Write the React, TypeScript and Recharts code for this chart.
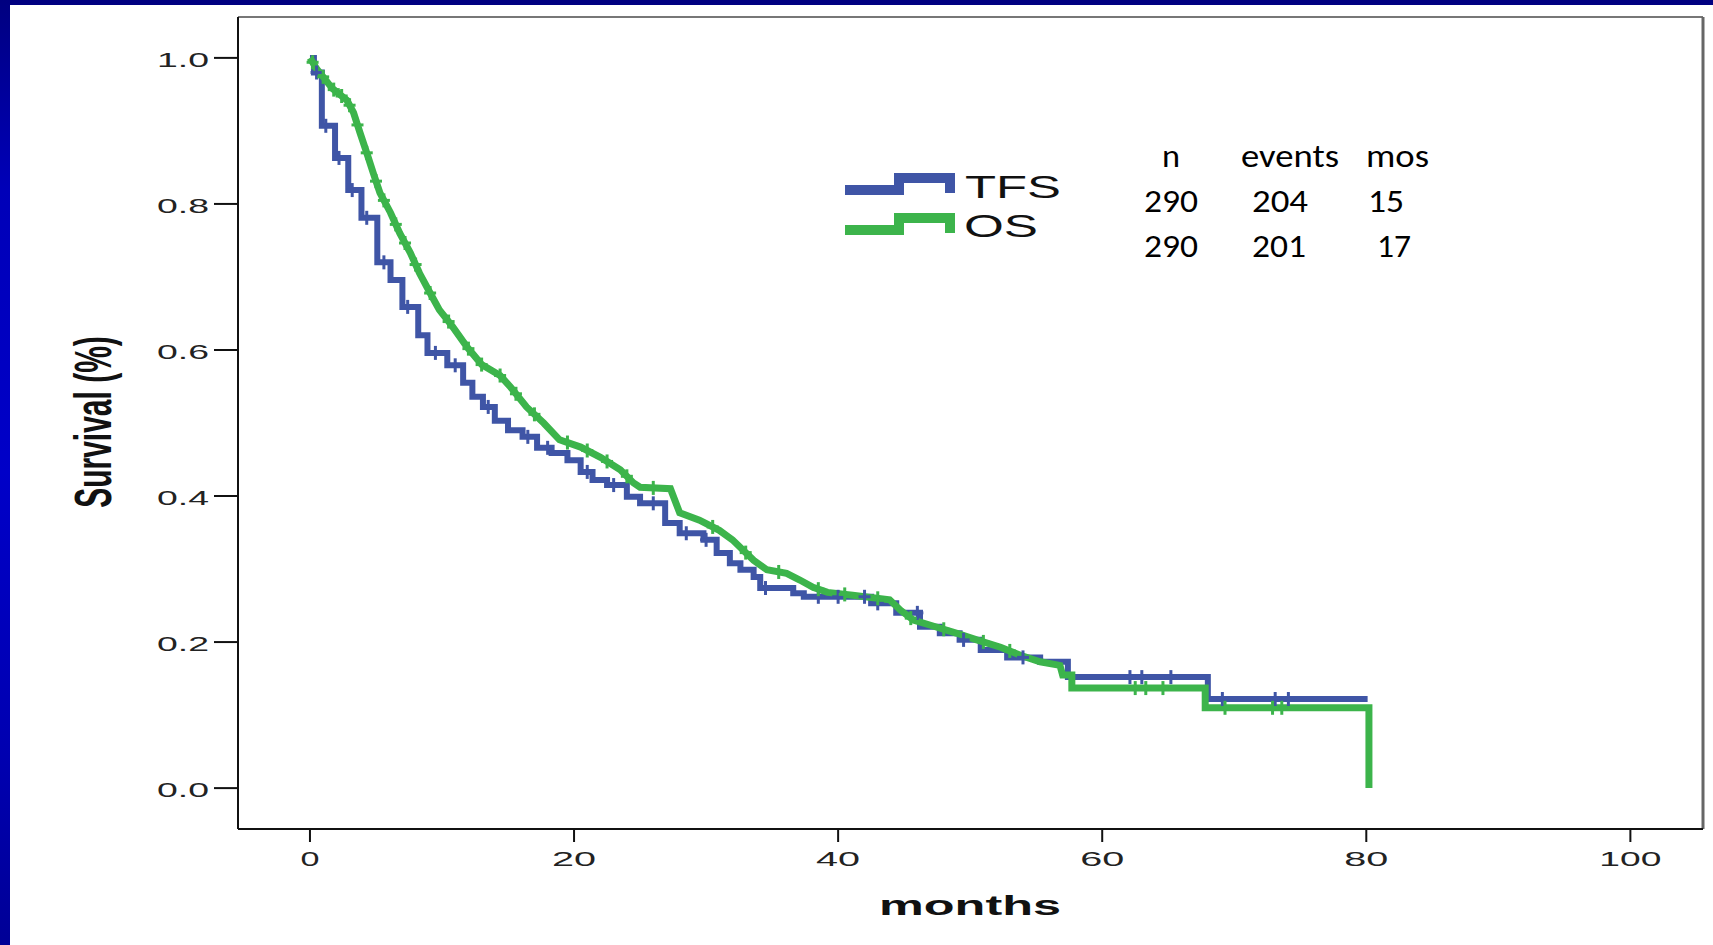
import React from 'react';
import { ComposedChart, Line, Scatter, XAxis, YAxis, ReferenceLine } from 'recharts';

// ---- data ----
const xTicks = [0, 20, 40, 60, 80, 100];
const yTicks = [0, 0.2, 0.4, 0.6, 0.8, 1.0];

// TFS: step points (time of drop, survival after drop)
const tfsMonths = [0, 0.3, 0.9, 1.9, 2.9, 3.9, 5.1, 6.1, 7.0, 8.2, 8.9, 10.4, 11.6, 12.3, 13.1, 14.0, 15.0, 16.1, 17.2, 18.3, 19.5, 20.5, 21.4, 22.5, 24.0, 25.0, 26.9, 28.0, 29.8, 30.8, 31.8, 32.6, 33.6, 34.1, 36.6, 37.4, 42.5, 44.4, 46.2, 47.7, 49.2, 50.8, 52.8, 55.3, 57.4, 68.0, 80.1];
const tfsSurvival = [1.0, 0.98, 0.907, 0.863, 0.819, 0.781, 0.72, 0.696, 0.659, 0.62, 0.596, 0.579, 0.555, 0.536, 0.522, 0.503, 0.49, 0.481, 0.466, 0.459, 0.449, 0.433, 0.422, 0.415, 0.399, 0.39, 0.363, 0.349, 0.34, 0.322, 0.308, 0.299, 0.289, 0.274, 0.267, 0.262, 0.253, 0.24, 0.221, 0.212, 0.203, 0.189, 0.179, 0.173, 0.152, 0.122, 0.122];

// OS: vertices of the densely stepped curve
const osMonths = [0, 0.5, 1.0, 1.7, 2.8, 3.3, 3.8, 4.3, 4.8, 5.3, 6.1, 6.8, 7.6, 8.3, 9.1, 9.8, 10.8, 11.9, 13.0, 14.4, 15.2, 16.4, 17.7, 18.9, 20.5, 22.0, 23.5, 24.5, 25.0, 27.3, 28.0, 29.5, 31.0, 32.0, 33.6, 34.6, 36.1, 37.1, 38.1, 39.2, 41.1, 43.9, 44.7, 45.7, 47.0, 49.0, 50.5, 52.3, 53.8, 55.3, 56.8, 57.0, 57.7, 57.7, 67.8, 67.8, 80.2, 80.2];
const osSurvival = [1.0, 0.985, 0.974, 0.958, 0.942, 0.925, 0.897, 0.87, 0.842, 0.815, 0.788, 0.76, 0.733, 0.705, 0.678, 0.655, 0.632, 0.604, 0.58, 0.565, 0.549, 0.522, 0.5, 0.477, 0.467, 0.453, 0.436, 0.418, 0.412, 0.41, 0.377, 0.367, 0.353, 0.34, 0.312, 0.299, 0.294, 0.285, 0.275, 0.268, 0.264, 0.258, 0.244, 0.23, 0.223, 0.212, 0.203, 0.193, 0.182, 0.173, 0.168, 0.155, 0.155, 0.137, 0.137, 0.11, 0.11, 0.0];

const tfsCensorMonths = [0.5, 1.2, 2.2, 3.2, 4.3, 5.6, 7.4, 9.5, 11.0, 13.5, 16.5, 18.0, 21.0, 23.0, 26.0, 28.5, 30.0, 34.5, 38.5, 40.0, 42.0, 43.0, 46.0, 49.5, 54.0, 62.1, 63.0, 65.2, 69.1, 73.1, 74.1];
const osCensorMonths = [0.2, 1.0, 1.8, 2.4, 3.0, 3.6, 4.3, 5.0, 5.6, 6.5, 7.2, 8.0, 9.1, 10.5, 12.0, 13.0, 14.4, 15.6, 17.0, 19.5, 21.0, 22.5, 24.0, 26.0, 30.5, 33.0, 35.5, 38.5, 40.5, 43.0, 45.5, 48.0, 51.0, 53.0, 62.5, 63.3, 64.6, 69.3, 72.9, 73.6];

const seriesNames = ['TFS', 'OS'];
const tableHeader = ['n', 'events', 'mos'];
const tableRows = [
  ['290', '204', '15'],
  ['290', '201', '17'],
];

// ---- helpers ----
const BLUE = '#3f55a6';
const GREEN = '#3cb44b';
const W = 1713;
const H = 945;
const TICK_FONT = '"Liberation Sans", Arial, sans-serif';

const toPoints = (ts: number[], ss: number[]) => ts.map((t, i) => ({ t, s: ss[i] }));
const stepValueAt = (ts: number[], ss: number[], t: number) => {
  let v = ss[0];
  for (let i = 0; i < ts.length; i++) if (ts[i] <= t) v = ss[i];
  return v;
};
const lineValueAt = (ts: number[], ss: number[], t: number) => {
  for (let i = 1; i < ts.length; i++) {
    if (t <= ts[i]) {
      const t0 = ts[i - 1];
      const t1 = ts[i];
      if (t1 === t0) return ss[i];
      return ss[i - 1] + ((ss[i] - ss[i - 1]) * (t - t0)) / (t1 - t0);
    }
  }
  return ss[ss.length - 1];
};

const tfsData = toPoints(tfsMonths, tfsSurvival);
const osData = toPoints(osMonths, osSurvival);
const tfsCensor = tfsCensorMonths.map((t) => ({ t, s: stepValueAt(tfsMonths, tfsSurvival, t) }));
const osCensor = osCensorMonths.map((t) => ({ t, s: lineValueAt(osMonths, osSurvival, t) }));

const makeCensor = (color: string) => (props: any) => {
  const { cx, cy } = props;
  if (cx == null || cy == null) return <g />;
  return (
    <g>
      <line x1={cx} x2={cx} y1={cy - 7} y2={cy + 7} stroke={color} strokeWidth={3} />
      <line x1={cx - 6} x2={cx + 6} y1={cy} y2={cy} stroke={color} strokeWidth={3} />
    </g>
  );
};

const YTick = (props: any) => {
  const { x, y, payload } = props;
  return (
    <text x={x - 55} y={y + 9} textLength={52} lengthAdjust="spacingAndGlyphs" fontSize={21} fill="#222" fontFamily={TICK_FONT}>
      {Number(payload.value).toFixed(1)}
    </text>
  );
};

const XTick = (props: any) => {
  const { x, y, payload } = props;
  const label = String(payload.value);
  const len = label.length === 1 ? 19 : label.length === 2 ? 44 : 62;
  return (
    <text x={x - len / 2} y={y + 22} textLength={len} lengthAdjust="spacingAndGlyphs" fontSize={21} fill="#222" fontFamily={TICK_FONT}>
      {label}
    </text>
  );
};

const X_DOMAIN: [number, number] = [-5.45, 105.5];
const Y_DOMAIN: [number, number] = [-0.056, 1.056];

export default function App() {
  return (
    <div
      style={{
        position: 'absolute',
        left: 0,
        top: 0,
        width: W,
        height: H,
        overflow: 'hidden',
        background: 'linear-gradient(to bottom, #000080 0%, #0000b8 20%, #0000c8 50%, #0000b0 80%, #000096 100%)',
      }}
    >
      <div style={{ position: 'absolute', left: 10, top: 5, right: 0, bottom: 0, background: '#ffffff' }} />
      <div style={{ position: 'absolute', left: 0, top: 0 }}>
        <ComposedChart width={W} height={H} margin={{ top: 17, right: 10, bottom: 56, left: 158 }}>
          <XAxis
            type="number"
            dataKey="t"
            domain={X_DOMAIN}
            ticks={xTicks}
            allowDataOverflow
            height={60}
            tickSize={13}
            axisLine={{ stroke: '#111', strokeWidth: 2 }}
            tickLine={{ stroke: '#111', strokeWidth: 2 }}
            tick={<XTick />}
            interval={0}
          />
          <YAxis
            type="number"
            dataKey="s"
            domain={Y_DOMAIN}
            ticks={yTicks}
            allowDataOverflow
            width={80}
            tickSize={24}
            axisLine={{ stroke: '#111', strokeWidth: 2 }}
            tickLine={{ stroke: '#111', strokeWidth: 2 }}
            tick={<YTick />}
            interval={0}
          />
          <ReferenceLine y={Y_DOMAIN[1]} stroke="#777" strokeWidth={2} />
          <ReferenceLine x={X_DOMAIN[1]} stroke="#666" strokeWidth={3} />
          <Line data={tfsData} dataKey="s" type="stepAfter" stroke={BLUE} strokeWidth={6} dot={false} isAnimationActive={false} name={seriesNames[0]} />
          <Scatter data={tfsCensor} dataKey="s" shape={makeCensor(BLUE)} isAnimationActive={false} />
          <Line data={osData} dataKey="s" type="linear" stroke={GREEN} strokeWidth={7} strokeLinejoin="miter" dot={false} isAnimationActive={false} name={seriesNames[1]} />
          <Scatter data={osCensor} dataKey="s" shape={makeCensor(GREEN)} isAnimationActive={false} />
        </ComposedChart>
      </div>
      <svg width={W} height={H} style={{ position: 'absolute', left: 0, top: 0, pointerEvents: 'none' }}>
        <text
          transform="translate(111,422) scale(1.73,1) rotate(-90)"
          textAnchor="middle"
          fontSize={30}
          fontWeight="bold"
          fill="#111"
          fontFamily={TICK_FONT}
        >
          Survival (%)
        </text>
        <text x={879} y={915} textLength={182} lengthAdjust="spacingAndGlyphs" fontSize={28} fontWeight="bold" fill="#111" fontFamily={TICK_FONT}>
          months
        </text>
        <path d="M845,190 H899 V178 H950 V193" fill="none" stroke={BLUE} strokeWidth={10} />
        <path d="M845,230 H899 V218 H950 V233" fill="none" stroke={GREEN} strokeWidth={10} />
        <text x={965} y={198} textLength={96} lengthAdjust="spacingAndGlyphs" fontSize={31} fill="#111" fontFamily={TICK_FONT}>
          {seriesNames[0]}
        </text>
        <text x={964} y={237} textLength={74} lengthAdjust="spacingAndGlyphs" fontSize={31} fill="#111" fontFamily={TICK_FONT}>
          {seriesNames[1]}
        </text>
        <g fontFamily='Carlito, Lato, "Open Sans", sans-serif' fontSize={33} fill="#000">
          <text x={1162} y={167} textLength={18} lengthAdjust="spacingAndGlyphs">{tableHeader[0]}</text>
          <text x={1241} y={167} textLength={98} lengthAdjust="spacingAndGlyphs">{tableHeader[1]}</text>
          <text x={1366} y={167} textLength={63} lengthAdjust="spacingAndGlyphs">{tableHeader[2]}</text>
          <text x={1144} y={212} textLength={54} lengthAdjust="spacingAndGlyphs">{tableRows[0][0]}</text>
          <text x={1252} y={212} textLength={56} lengthAdjust="spacingAndGlyphs">{tableRows[0][1]}</text>
          <text x={1368} y={212} textLength={36} lengthAdjust="spacingAndGlyphs">{tableRows[0][2]}</text>
          <text x={1144} y={257} textLength={54} lengthAdjust="spacingAndGlyphs">{tableRows[1][0]}</text>
          <text x={1252} y={257} textLength={54} lengthAdjust="spacingAndGlyphs">{tableRows[1][1]}</text>
          <text x={1377} y={257} textLength={34} lengthAdjust="spacingAndGlyphs">{tableRows[1][2]}</text>
        </g>
      </svg>
    </div>
  );
}
